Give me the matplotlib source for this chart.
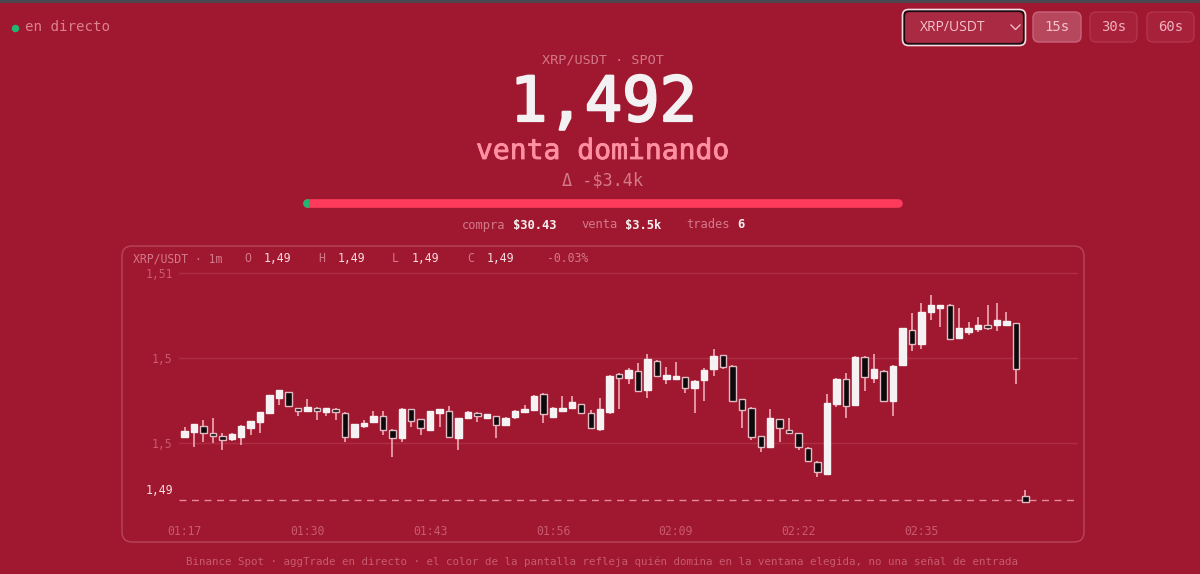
#!/usr/bin/env python3
"""Live order-flow screen for XRP/USDT with a 1m candle chart."""
import matplotlib
matplotlib.use("Agg")
import matplotlib.pyplot as plt
import matplotlib.patheffects as pe
from matplotlib.patches import FancyBboxPatch, Rectangle

BG = "#A0182F"
MONO = "DejaVu Sans Mono"

opens = [1.49535, 1.49565, 1.49600, 1.49561, 1.49539, 1.49525, 1.49535, 1.49586, 1.49625, 1.49675,
         1.49765, 1.49800, 1.49708, 1.49688, 1.49708, 1.49684, 1.49700, 1.49678, 1.49537, 1.49598,
         1.49625, 1.49657, 1.49578, 1.49527, 1.49698, 1.49639, 1.49576, 1.49678, 1.49688, 1.49527,
         1.49645, 1.49678, 1.49649, 1.49657, 1.49604, 1.49655, 1.49680, 1.49694, 1.49788, 1.49655,
         1.49688, 1.49704, 1.49727, 1.49678, 1.49584, 1.49684, 1.49908, 1.49882, 1.49925, 1.49814,
         1.49984, 1.49876, 1.49878, 1.49886, 1.49824, 1.49873, 1.49933, 1.50016, 1.49955, 1.49757,
         1.49708, 1.49539, 1.49476, 1.49639, 1.49578, 1.49559, 1.49471, 1.49390, 1.49318, 1.49731,
         1.49875, 1.49724, 1.50006, 1.49884, 1.49925, 1.49745, 1.49961, 1.50165, 1.50082, 1.50271,
         1.50292, 1.50312, 1.50120, 1.50153, 1.50169, 1.50194, 1.50192, 1.50194, 1.50204, 1.49190]
highs = [1.49596, 1.49610, 1.49637, 1.49649, 1.49557, 1.49557, 1.49606, 1.49629, 1.49680, 1.49784,
         1.49810, 1.49802, 1.49708, 1.49757, 1.49712, 1.49708, 1.49704, 1.49684, 1.49614, 1.49637,
         1.49688, 1.49688, 1.49582, 1.49704, 1.49700, 1.49641, 1.49690, 1.49700, 1.49716, 1.49649,
         1.49686, 1.49684, 1.49673, 1.49661, 1.49653, 1.49694, 1.49725, 1.49780, 1.49796, 1.49710,
         1.49778, 1.49776, 1.49729, 1.49694, 1.49767, 1.49898, 1.49910, 1.49943, 1.49969, 1.50024,
         1.49988, 1.49945, 1.49976, 1.49890, 1.49871, 1.49943, 1.50055, 1.50020, 1.49959, 1.49761,
         1.49710, 1.49541, 1.49698, 1.49641, 1.49649, 1.49561, 1.49475, 1.49394, 1.49786, 1.49882,
         1.49914, 1.50012, 1.50010, 1.50024, 1.49927, 1.49957, 1.50176, 1.50263, 1.50322, 1.50373,
         1.50314, 1.50316, 1.50292, 1.50212, 1.50243, 1.50312, 1.50322, 1.50271, 1.50206, 1.49222]
lows = [1.49531, 1.49478, 1.49508, 1.49498, 1.49459, 1.49512, 1.49488, 1.49547, 1.49557, 1.49669,
        1.49724, 1.49714, 1.49657, 1.49688, 1.49637, 1.49657, 1.49637, 1.49508, 1.49535, 1.49586,
        1.49620, 1.49547, 1.49420, 1.49508, 1.49596, 1.49547, 1.49571, 1.49596, 1.49535, 1.49459,
        1.49639, 1.49625, 1.49639, 1.49527, 1.49600, 1.49639, 1.49676, 1.49688, 1.49618, 1.49653,
        1.49686, 1.49698, 1.49669, 1.49580, 1.49571, 1.49669, 1.49698, 1.49845, 1.49804, 1.49767,
        1.49886, 1.49847, 1.49876, 1.49792, 1.49678, 1.49745, 1.49896, 1.49937, 1.49743, 1.49586,
        1.49518, 1.49449, 1.49475, 1.49508, 1.49559, 1.49459, 1.49394, 1.49298, 1.49310, 1.49714,
        1.49645, 1.49722, 1.49806, 1.49855, 1.49743, 1.49657, 1.49955, 1.50043, 1.50053, 1.50222,
        1.50182, 1.50110, 1.50114, 1.50133, 1.50153, 1.50167, 1.50161, 1.50192, 1.49845, 1.49151]
closes = [1.49571, 1.49610, 1.49557, 1.49541, 1.49516, 1.49551, 1.49600, 1.49629, 1.49680, 1.49780,
          1.49810, 1.49716, 1.49690, 1.49710, 1.49688, 1.49708, 1.49680, 1.49537, 1.49610, 1.49620,
          1.49659, 1.49576, 1.49527, 1.49700, 1.49629, 1.49586, 1.49690, 1.49700, 1.49537, 1.49649,
          1.49680, 1.49657, 1.49669, 1.49604, 1.49649, 1.49690, 1.49700, 1.49778, 1.49669, 1.49708,
          1.49708, 1.49739, 1.49675, 1.49586, 1.49698, 1.49896, 1.49884, 1.49927, 1.49806, 1.49996,
          1.49896, 1.49898, 1.49896, 1.49825, 1.49867, 1.49927, 1.50014, 1.49945, 1.49745, 1.49696,
          1.49537, 1.49476, 1.49649, 1.49586, 1.49561, 1.49476, 1.49396, 1.49327, 1.49737, 1.49878,
          1.49716, 1.50008, 1.49886, 1.49937, 1.49745, 1.49955, 1.50175, 1.50082, 1.50273, 1.50314,
          1.50314, 1.50112, 1.50175, 1.50175, 1.50196, 1.50175, 1.50224, 1.50216, 1.49935, 1.49153]

price_ticks = [1.495, 1.5, 1.505]
price_labels = ["1,5", "1,5", "1,51"]
time_ticks = [0, 13, 26, 39, 52, 65, 78]
time_labels = ["01:17", "01:30", "01:43", "01:56", "02:09", "02:22", "02:35"]
last_price = 1.49165

fig = plt.figure(figsize=(12, 5.74), dpi=100, facecolor=BG)

# page layer in pixel coords
ui = fig.add_axes([0, 0, 1, 1])
ui.set_xlim(0, 1200); ui.set_ylim(574, 0); ui.axis("off")


def box(x, y, w, h, r, fc, ec, lw=1.0, z=1):
    ui.add_patch(FancyBboxPatch((x + r, y + r), w - 2 * r, h - 2 * r, boxstyle=f"round,pad={r}",
                                fc=fc, ec=ec, lw=lw, zorder=z))


def txt(x, y, s, size, color, ha="left", weight="normal", stroke=0):
    t = ui.text(x, y, s, fontsize=size, color=color, ha=ha, va="center", family=MONO, fontweight=weight)
    if stroke:
        t.set_path_effects([pe.withStroke(linewidth=stroke, foreground=color)])
    return t


ui.add_patch(Rectangle((0, 0), 1200, 2.5, fc="#4B4650", ec="none"))
ui.plot([14.5], [27.5], "o", ms=5.4, color="#22B573", mec="none")
txt(25, 27, "en directo", 10.2, "#DD8092")

# symbol select + window buttons
box(904, 11, 120, 33, 5, "#A92A42", "#150A0E", 1.6, 2)
box(902.5, 9.5, 123, 36, 6, "none", "#F6DCE2", 1.2, 3)
ui.text(920, 27.5, "XRP/USDT", fontsize=10, color="#F6C4CE", va="center", family="Open Sans")
ui.plot([1011, 1015.5, 1020], [25, 29.5, 25], color="#F0B8C4", lw=1)
box(1033, 12, 48, 30, 6, "#B6475C", "#C9647A", 1.0)
box(1090, 12, 47, 30, 6, "#A62139", "#B23448", 1.0)
box(1147, 12, 47, 30, 6, "#A62139", "#B23448", 1.0)
txt(1057, 27, "15s", 10, "#F6C4CE", "center")
txt(1113.5, 27, "30s", 10, "#F0B0BE", "center")
txt(1170.5, 27, "60s", 10, "#F0B0BE", "center")

# headline
txt(603, 60, "XRP/USDT · SPOT", 9.7, "#D4788B", "center")
txt(603.5, 104, "1,492", 44.7, "#F4F1F3", "center", stroke=1.6)
txt(602.5, 151, "venta dominando", 20.2, "#FF8FA3", "center", stroke=0.6)
txt(602.5, 180, "Δ -$3.4k", 12.2, "#D4788B", "center")

# pressure bar
ui.plot([307, 898], [203, 203], color="#FF3B5C", lw=6.2, solid_capstyle="round", zorder=2)
green = ui.plot([307, 307.5], [203, 203], color="#22B573", lw=6.2, solid_capstyle="round", zorder=3)[0]
green.set_clip_path(Rectangle((300, 195), 8.6, 16, transform=ui.transData))

txt(462, 225, "compra", 8.7, "#D4788B")
txt(513, 225, "$30.43", 8.7, "#F8EEF0", weight="bold")
txt(581, 225, "venta", 8.7, "#D4788B")
txt(625, 225, "$3.5k", 8.7, "#F8EEF0", weight="bold")
txt(686, 225, "trades", 8.7, "#D4788B")
txt(737, 225, "6", 8.7, "#F8EEF0", weight="bold")

# chart card
box(122, 246, 962, 296, 10, "none", "#B9455B", 1.0)
txt(133, 259, "XRP/USDT · 1m", 8.3, "#D4788B")
for x, s in [(244, "O"), (318, "H"), (392, "L"), (467, "C")]:
    txt(x, 259, s, 8.3, "#D4788B")
    txt(x + 20, 259, "1,49", 8.3, "#F6DDE2")
txt(547, 259, "-0.03%", 8.3, "#D4788B")
txt(602.5, 562, "Binance Spot · aggTrade en directo · el color de la pantalla refleja quién domina "
    "en la ventana elegida, no una señal de entrada", 7.72, "#C85A70", "center")

# candle axes, placed so ticks land where the reference has them
L, R, T, B = 179.0, 1077.5, 265.0, 515.0
ax = fig.add_axes([L / 1200, 1 - B / 574, (R - L) / 1200, (B - T) / 574])
ax.patch.set_alpha(0)
step = (1025.3 - 184.5) / 89
ax.set_xlim((L - 184.5) / step, (R - 184.5) / step)
ppx = 0.005 / 85
ax.set_ylim(1.495 - (B - 443) * ppx, 1.495 + (443 - T) * ppx)
for s in ax.spines.values():
    s.set_visible(False)
ax.set_yticks(price_ticks, price_labels, family=MONO, fontsize=8.3, color="#C95A70")
ax.set_xticks(time_ticks, time_labels, family=MONO, fontsize=8.3, color="#C95A70")
ax.tick_params(axis="both", length=0)
ax.tick_params(axis="y", pad=4.5)
ax.tick_params(axis="x", pad=7.5)
ax.grid(axis="y", color="#AD2E44", lw=1)
ax.set_axisbelow(True)

ax.axhline(last_price, color="#E58A9C", lw=1, dashes=(5, 4), zorder=1)
ax.annotate("1,49", (0, last_price), xycoords=("axes fraction", "data"), xytext=(-4.5, 6.5),
            textcoords="offset points", ha="right", va="center", family=MONO, fontsize=8.3,
            color="#F6DDE2")

xs = list(range(len(opens)))
ax.vlines(xs, lows, highs, color="#F5B6C3", lw=1.1, zorder=2)
for i, (o, c) in enumerate(zip(opens, closes)):
    up = c >= o
    ax.bar(i, abs(c - o), bottom=min(o, c), width=0.68, color="#F6F1F3" if up else "#0C0A0B",
           edgecolor="#F6F1F3" if up else "#E3BAC3", linewidth=1.0, zorder=3)

fig.savefig("out.png", dpi=100, facecolor=BG)
